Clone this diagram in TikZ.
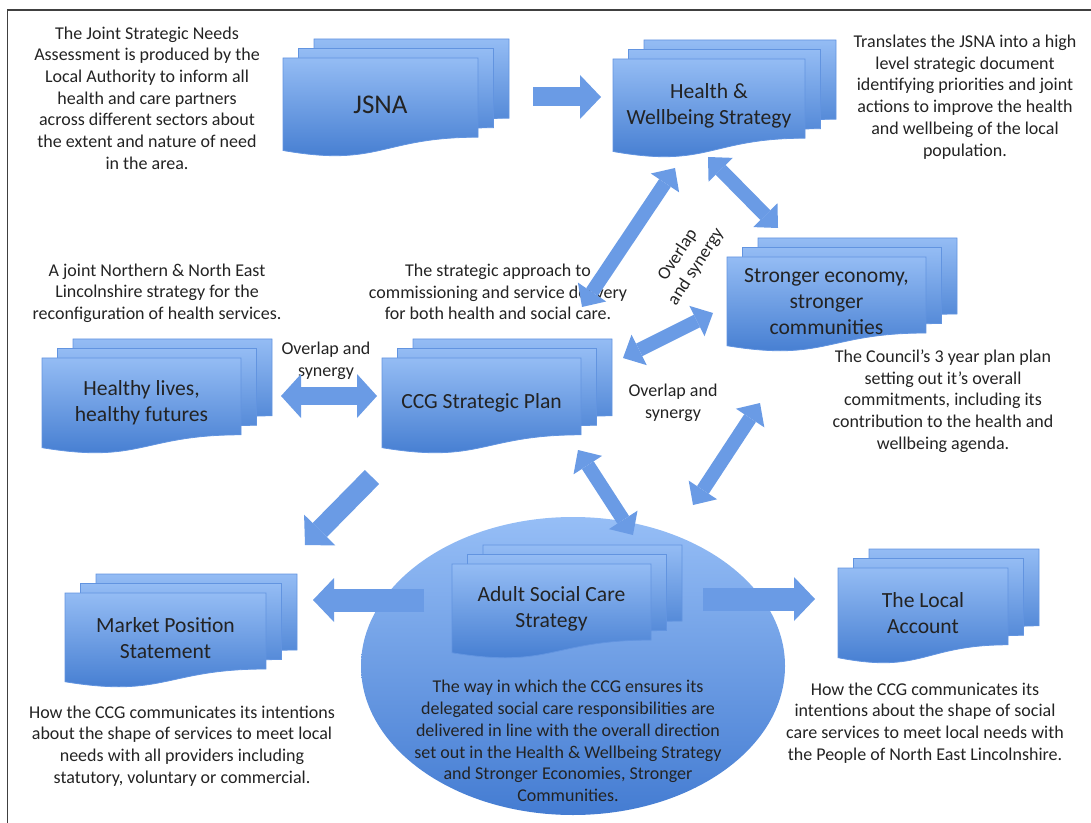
\documentclass[tikz,border=0pt]{standalone}
\usepackage{fontspec}
\setmainfont{Carlito}
\usetikzlibrary{arrows.meta,shapes.geometric}

\definecolor{docTop}{RGB}{148,188,244}
\definecolor{docBot}{RGB}{62,120,206}
\definecolor{docLine}{RGB}{98,148,224}
\definecolor{arrowFill}{RGB}{106,155,229}
\definecolor{ovalTop}{RGB}{150,190,246}
\definecolor{ovalBot}{RGB}{68,124,210}
\definecolor{inkCol}{RGB}{35,35,35}

\newcommand{\docpage}[4]{%
  \path[docpage,shift={(#1,#2)}] (0,0) -- (#3,0) -- (#3,{0.8*#4})
    .. controls ({0.5*#3},{0.8*#4}) and ({0.5*#3},{1.107*#4}) .. (0,{0.934*#4}) -- cycle;}

\begin{document}
\begin{tikzpicture}[x=0.5pt,y=-0.5pt,
    docpage/.style={draw=docLine,line width=0.4pt,top color=docTop,bottom color=docBot},
    title/.style={text=inkCol,font=\fontsize{10.8}{13}\selectfont,align=center,inner sep=0pt},
    desc/.style={text=inkCol,font=\fontsize{9}{10.85}\selectfont,align=center,inner sep=0pt},
    pics/docstack/.style n args={3}{code={
      \docpage{31}{-19}{#1}{#2}
      \docpage{15.5}{-9.5}{#1}{#2}
      \docpage{0}{0}{#1}{#2}
      \node[title] (-txt) at ({0.5*#1},{0.47*#2}) {#3};
    }},
    bigarrow/.style={draw=arrowFill,line width=#1,
      -{Triangle[width=22pt,length=10.5pt,line width=0pt]}},
    twoway/.style={draw=arrowFill,line width=7pt,
      {Triangle[width=17pt,length=9pt,line width=0pt]}-{Triangle[width=17pt,length=9pt,line width=0pt]}},
    wideway/.style={draw=arrowFill,line width=9pt,
      {Triangle[width=22pt,length=10pt,line width=0pt]}-{Triangle[width=22pt,length=10pt,line width=0pt]}}]
  \useasboundingbox (0,0) rectangle (1091,823);
  \draw[line width=0.8pt,draw=black!75] (1091,10) -- (7.5,10) -- (7.5,823);

  \node[ellipse,minimum width=212pt,minimum height=149pt,inner sep=0pt,
    top color=ovalTop,bottom color=ovalBot] (ascoval) at (573,666) {};

  \pic (jsna) at (283,58) {docstack={195}{99}{\fontsize{13.5}{16}\selectfont JSNA}};
  \pic (hw) at (613,59) {docstack={192}{99}{Health \&\\Wellbeing Strategy}};
  \pic (strong) at (727,257) {docstack={199}{95}{Stronger economy,\\stronger\\communities}};
  \pic (healthy) at (42,358) {docstack={199}{96}{Healthy lives,\\healthy futures}};
  \pic (ccg) at (382,358) {docstack={199}{96}{CCG Strategic Plan}};
  \pic (asc) at (452,564) {docstack={199}{95}{Adult Social Care\\Strategy}};
  \pic (market) at (65,593) {docstack={201}{95}{Market Position\\Statement}};
  \pic (local) at (838,568) {docstack={170}{96}{The Local\\Account}};

  \node[desc] (jsnadesc) at (147,98) {The Joint Strategic Needs\\Assessment is produced by the\\Local Authority to inform all\\health and care partners\\across different sectors about\\the extent and nature of need\\in the area.};
  \node[desc] (hwdesc) at (965,97) {Translates the JSNA into a high\\level strategic document\\identifying priorities and joint\\actions to improve the health\\and wellbeing of the local\\population.};
  \node[desc] (healthydesc) at (157,293) {A joint Northern \& North East\\Lincolnshire strategy for the\\reconfiguration of health services.};
  \node[desc] (ccgdesc) at (498,292) {The strategic approach to\\commissioning and service delivery\\for both health and social care.};
  \node[desc] (strongdesc) at (943,401) {The Council’s 3 year plan plan\\setting out it’s overall\\commitments, including its\\contribution to the health and\\wellbeing agenda.};
  \node[desc] (marketdesc) at (182,746) {How the CCG communicates its intentions\\about the shape of services to meet local\\needs with all providers including\\statutory, voluntary or commercial.};
  \node[desc] (localdesc) at (925,723) {How the CCG communicates its\\intentions about the shape of social\\care services to meet local needs with\\the People of North East Lincolnshire.};
  \node[desc] (ascdesc) at (568,741) {The way in which the CCG ensures its\\delegated social care responsibilities are\\delivered in line with the overall direction\\set out in the Health \& Wellbeing Strategy\\and Stronger Economies, Stronger\\Communities.};

  \node[desc] (synleft) at (326,361) {Overlap and\\synergy};
  \node[desc] (synmid) at (673,403) {Overlap and\\synergy};
  \node[desc,rotate=57] (syntop) at (687,261) {Overlap\\and synergy};

  \coordinate (jsnaout) at (533,97);
  \coordinate (hwin) at (601,97);
  \coordinate (healthyend) at (281,396);
  \coordinate (ccgleft) at (377,396);
  \coordinate (ccgtop) at (582,307);
  \coordinate (hwlow) at (675,168);
  \coordinate (hwright) at (708,157);
  \coordinate (strongtop) at (778,228);
  \coordinate (ccgright) at (623,358);
  \coordinate (strongleft) at (713,313);
  \coordinate (stronglow) at (760,403);
  \coordinate (ovalright) at (693,505);
  \coordinate (ccglow) at (578,450);
  \coordinate (ovaltop) at (633,535);
  \coordinate (ccgout) at (372,477);
  \coordinate (marketin) at (305,545);
  \coordinate (ovalleft) at (424,600);
  \coordinate (marketend) at (313,600);
  \coordinate (ovalout) at (703,599);
  \coordinate (localin) at (815,599);

  \draw[bigarrow=9.5pt] (jsnaout) -- (hwin);
  \draw[wideway] (healthyend) -- (ccgleft);
  \draw[twoway] (ccgtop) -- (hwlow);
  \draw[twoway] (hwright) -- (strongtop);
  \draw[twoway] (ccgright) -- (strongleft);
  \draw[twoway] (stronglow) -- (ovalright);
  \draw[twoway] (ccglow) -- (ovaltop);
  \draw[bigarrow=10pt] (ccgout) -- (marketin);
  \draw[bigarrow=11.5pt] (ovalleft) -- (marketend);
  \draw[bigarrow=11.5pt] (ovalout) -- (localin);
\end{tikzpicture}
\end{document}
